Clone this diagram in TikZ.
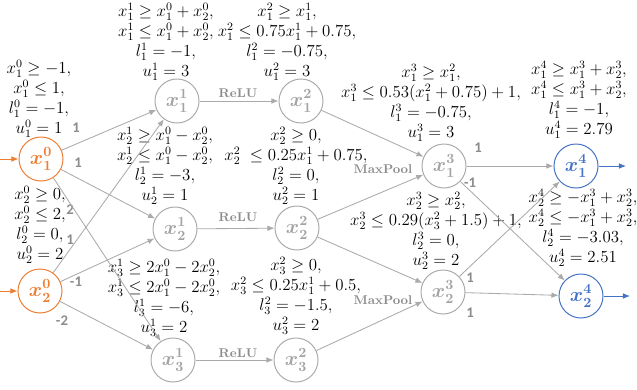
\documentclass[tikz,border=0pt]{standalone}
\usepackage{amsmath}
\usepackage{amssymb}
\usepackage{fontspec}
\usepackage{tikz}
\usetikzlibrary{arrows.meta,positioning,calc}
\newfontfamily\wtfont{Carlito}
\definecolor{inorange}{RGB}{237,125,49}
\definecolor{outblue} {RGB}{68,114,196}
\definecolor{midgray} {RGB}{170,170,170}
\definecolor{labgray} {RGB}{140,140,140}

\begin{document}
\begin{tikzpicture}[
  x=0.025cm,y=-0.025cm,
  neuron/.style={circle,draw=midgray,line width=0.7pt,minimum size=1.1cm,inner sep=0pt,text=labgray!80,font=\fontsize{14}{16}\selectfont},
  innode/.style={neuron,draw=inorange,text=inorange},
  outnode/.style={neuron,draw=outblue,text=outblue},
  bounds/.style={align=center,inner sep=0pt,font=\fontsize{12}{14.2}\selectfont},
  wt/.style={text=labgray,inner sep=1pt,font=\wtfont\bfseries\fontsize{10.5}{12}\selectfont},
  act/.style={text=labgray,inner sep=1pt,font=\bfseries\fontsize{9}{10}\selectfont},
  edge/.style={draw=midgray,line width=0.6pt,-{Latex[length=5pt,width=4pt]}}]
  \useasboundingbox(0,0)rectangle(637,389);
  % neurons
  \node[innode](x10) at(41,159){$\boldsymbol{x^0_1}$};
  \node[innode](x20) at(40,291){$\boldsymbol{x^0_2}$};
  \node[neuron](x11) at(177,101){$\boldsymbol{x^1_1}$};
  \node[neuron](x21) at(175,229){$\boldsymbol{x^1_2}$};
  \node[neuron](x31) at(173,360){$\boldsymbol{x^1_3}$};
  \node[neuron](x12) at(301,101){$\boldsymbol{x^2_1}$};
  \node[neuron](x22) at(297,228){$\boldsymbol{x^2_2}$};
  \node[neuron](x32) at(296,360){$\boldsymbol{x^2_3}$};
  \node[neuron](x13) at(444,166){$\boldsymbol{x^3_1}$};
  \node[neuron](x23) at(443,292){$\boldsymbol{x^3_2}$};
  \node[outnode](x14) at(576,166){$\boldsymbol{x^4_1}$};
  \node[outnode](x24) at(581,296){$\boldsymbol{x^4_2}$};
  \coordinate(in1) at(0,159);\coordinate(in2) at(0,291);
  \coordinate(out1) at(626,166);\coordinate(out2) at(630,296);
  % bounds
  \node[bounds](b10) at(39,99){$x^0_1\geq-1,$\\$x^0_1\leq1,$\\$l^0_1=-1,$\\$u^0_1=1$};
  \node[bounds](b20) at(40,225){$x^0_2\geq0,$\\$x^0_2\leq2,$\\$l^0_2=0,$\\$u^0_2=2$};
  \node[bounds](b11) at(166,42){$x^1_1\geq x^0_1+x^0_2,$\\$x^1_1\leq x^0_1+x^0_2,$\\$l^1_1=-1,$\\$u^1_1=3$};
  \node[bounds](b21) at(165,166){$x^1_2\geq x^0_1-x^0_2,$\\$x^1_2\leq x^0_1-x^0_2,$\\$l^1_2=-3,$\\$u^1_2=1$};
  \node[bounds](b31) at(164,298){$x^1_3\geq 2x^0_1-2x^0_2,$\\$x^1_3\leq 2x^0_1-2x^0_2,$\\$l^1_3=-6,$\\$u^1_3=2$};
  \node[bounds](b12) at(287,42){$x^2_1\geq x^1_1,$\\$x^2_1\leq 0.75x^1_1+0.75,$\\$l^2_1=-0.75,$\\$u^2_1=3$};
  \node[bounds](b22) at(296,166){$x^2_2\geq0,$\\$x^2_2\;\leq 0.25x^1_1+0.75,$\\$l^2_2=0,$\\$u^2_2=1$};
  \node[bounds](b32) at(296,296){$x^2_3\geq0,$\\$x^2_3\leq 0.25x^1_1+0.5,$\\$l^2_3=-1.5,$\\$u^2_3=2$};
  \node[bounds](b13) at(431,103){$x^3_1\geq x^2_1,$\\$x^3_1\leq 0.53(x^2_1+0.75)+1,$\\$l^3_1=-0.75,$\\$u^3_1=3$};
  \node[bounds](b23) at(436,231){$x^3_2\geq x^2_2,$\\$x^3_2\leq 0.29(x^2_3+1.5)+1,$\\$l^3_2=0,$\\$u^3_2=2$};
  \node[bounds](b14) at(579,100){$x^4_1\geq x^3_1+x^3_2,$\\$x^4_1\leq x^3_1+x^3_2,$\\$l^4_1=-1,$\\$u^4_1=2.79$};
  \node[bounds](b24) at(583,228){$x^4_2\geq -x^3_1+x^3_2,$\\$x^4_2\leq -x^3_1+x^3_2,$\\$l^4_2=-3.03,$\\$u^4_2=2.51$};
  % edge labels
  \node[wt](w11) at(76,128){1};\node[wt](w12) at(78,163){1};\node[wt](w13) at(70,210){2};
  \node[wt](w21) at(70,240){1};\node[wt](w22) at(76,282){-1};\node[wt](w23) at(62,321){-2};
  \node[wt](v11) at(478,148){1};\node[wt](v12) at(470,183){-1};
  \node[wt](v21) at(470,278){1};\node[wt](v22) at(470,313){1};
  \node[act](r1) at(238,93){ReLU};\node[act](r2) at(238,217){ReLU};\node[act](r3) at(238,353){ReLU};
  \node[act](m1) at(383,169){MaxPool};\node[act](m2) at(383,300){MaxPool};
  % connectors
  \draw[edge,draw=inorange](in1)--(x10);\draw[edge,draw=inorange](in2)--(x20);
  \draw[edge](x10)--(x11);\draw[edge](x10)--(x21);\draw[edge](x10)--(x31);
  \draw[edge](x20)--(x11);\draw[edge](x20)--(x21);\draw[edge](x20)--(x31);
  \draw[edge](x11)--(x12);\draw[edge](x21)--(x22);\draw[edge](x31)--(x32);
  \draw[edge](x12)--(x13);\draw[edge](x22)--(x13);\draw[edge](x22)--(x23);\draw[edge](x32)--(x23);
  \draw[edge](x13)--(x14);\draw[edge](x13)--(x24);\draw[edge](x23)--(x14);\draw[edge](x23)--(x24);
  \draw[edge,draw=outblue](x14)--(out1);\draw[edge,draw=outblue](x24)--(out2);
\end{tikzpicture}
\end{document}
